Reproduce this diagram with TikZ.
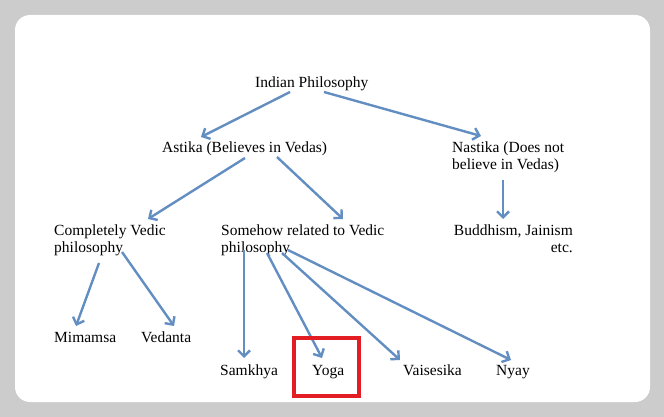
\documentclass[tikz,border=0pt]{standalone}
\usepackage{fontspec}
\setmainfont{Liberation Serif}
\usetikzlibrary{arrows.meta}
\definecolor{arrowblue}{RGB}{98,142,194}
\definecolor{framegray}{RGB}{204,204,204}
\definecolor{boxred}{RGB}{226,30,36}
\begin{document}
\begin{tikzpicture}[
    x=1pt, y=-1pt,
    item/.style={anchor=north west, inner sep=0pt, align=left,
                 font=\fontsize{15.5}{17}\selectfont},
    arr/.style={-{Straight Barb[length=6pt,width=12pt]}, line width=2.4pt,
                arrowblue},
]
    \fill[framegray] (0,0) rectangle (664,417);
    \fill[white, rounded corners=15pt] (15,15) rectangle (650,402);

    \node[item] (phil) at (255,77) {Indian Philosophy};
    \node[item] (astika) at (162,142) {Astika (Believes in Vedas)};
    \node[item] (nastika) at (452,142) {Nastika (Does not\\believe in Vedas)};
    \node[item] (complete) at (54,225) {Completely Vedic\\philosophy};
    \node[item] (somehow) at (221,225) {Somehow related to Vedic\\philosophy};
    \node[item, anchor=north east, align=right] (buddh) at (573,225)
        {Buddhism, Jainism\\etc.};
    \node[item] (mimamsa) at (54,332) {Mimamsa};
    \node[item] (vedanta) at (141,332) {Vedanta};
    \node[item] (samkhya) at (220,365) {Samkhya};
    \node[item] (yoga) at (312,365) {Yoga};
    \node[item] (vaisesika) at (403,365) {Vaisesika};
    \node[item] (nyay) at (496,365) {Nyay};

    \draw[arr] ([shift={(35,15)}]phil.north west) -- ([shift={(39,-5)}]astika.north west);
    \draw[arr] ([shift={(69,15)}]phil.north west) -- ([shift={(29,-6)}]nastika.north west);
    \draw[arr] ([shift={(83,16)}]astika.north west) -- ([shift={(94,-6)}]complete.north west);
    \draw[arr] ([shift={(115,15)}]astika.north west) -- ([shift={(122,-6)}]somehow.north west);
    \draw[arr] ([shift={(51,38)}]nastika.north west) -- ([shift={(-70,-6)}]buddh.north east);
    \draw[arr] ([shift={(45,38)}]complete.north west) -- ([shift={(22,-6)}]mimamsa.north west);
    \draw[arr] ([shift={(68,27)}]complete.north west) -- ([shift={(33,-6)}]vedanta.north west);
    \draw[arr] ([shift={(23,25)}]somehow.north west) -- ([shift={(24,-7)}]samkhya.north west);
    \draw[arr] ([shift={(46,28)}]somehow.north west) -- ([shift={(10,-7)}]yoga.north west);
    \draw[arr] ([shift={(61,28)}]somehow.north west) -- ([shift={(-3,-5)}]vaisesika.north west);
    \draw[arr] ([shift={(67,25)}]somehow.north west) -- ([shift={(15,-5)}]nyay.north west);

    \draw[boxred, line width=4pt] (294,338) rectangle (359,396);
\end{tikzpicture}
\end{document}
